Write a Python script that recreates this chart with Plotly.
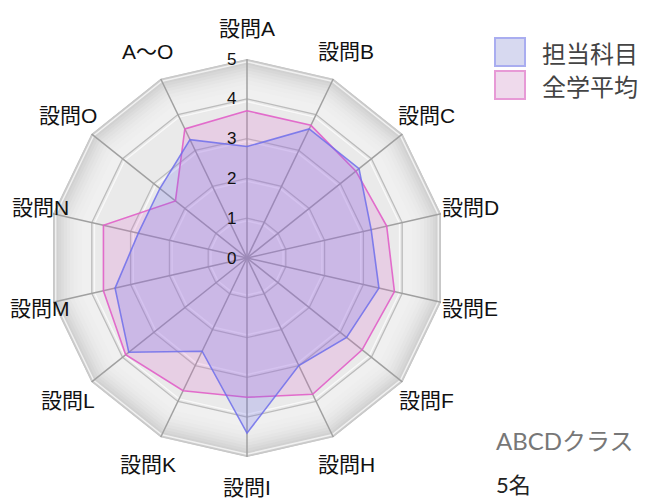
import math
import plotly.graph_objects as go

# Survey items (clockwise from the top)
categories = ["設問A", "設問B", "設問C", "設問D", "設問E", "設問F", "設問H",
              "設問I", "設問K", "設問L", "設問M", "設問N", "設問O", "A〜O"]

# Average scores (0-5)
subject_scores = [2.8, 3.6, 3.6, 3.2, 3.4, 3.2, 3.0, 4.4, 2.6, 3.8, 3.4, 2.8, 2.8, 3.3]
overall_scores = [3.7, 3.7, 3.5, 3.6, 3.8, 3.7, 3.8, 3.5, 3.7, 3.9, 3.7, 3.7, 2.3, 3.6]

series_names = ["担当科目", "全学平均"]
radial_ticks = [0, 1, 2, 3, 4, 5]

class_label = "ABCDクラス"
count_label = "5名"

W, H = 646, 499
CJK = "Liberation Sans, Noto Sans CJK JP, sans-serif"

line_cols = {"担当科目": "rgba(110,110,235,0.85)", "全学平均": "rgba(225,95,200,0.9)"}
fill_cols = {"担当科目": "rgba(105,105,235,0.22)", "全学平均": "rgba(220,100,205,0.20)"}
swatch_line = {"担当科目": "#a9adf0", "全学平均": "#e79ad6"}
swatch_fill = {"担当科目": "#d7d9f0", "全学平均": "#efdaec"}

theta_closed = categories + [categories[0]]
rmax = radial_ticks[-1]

fig = go.Figure()

# Bevelled grey backdrop: darker at the rim, fading inward
bands = [(5.00, "#cbcbcb"), (4.93, "#d1d1d1"), (4.86, "#d7d7d7"), (4.79, "#dcdcdc"),
         (4.72, "#e1e1e1"), (4.64, "#e5e5e5"), (4.56, "#e9e9e9"), (4.47, "#ececec"),
         (4.37, "#eeeeee"), (4.25, "#f0f0f0"), (4.0, "#e8e8e8"), (3.9, "#eaeaea")]
for rb, col in bands:
    fig.add_trace(go.Scatterpolar(
        r=[rb] * len(theta_closed), theta=theta_closed, mode="lines",
        fill="toself", fillcolor=col, line=dict(width=0, color=col),
        hoverinfo="skip", showlegend=False))

# Ring grid with a soft highlight just inside each ring
for k in radial_ticks[1:]:
    fig.add_trace(go.Scatterpolar(
        r=[k - 0.07] * len(theta_closed), theta=theta_closed, mode="lines",
        line=dict(color="rgba(255,255,255,0.7)", width=1.5),
        hoverinfo="skip", showlegend=False))
    fig.add_trace(go.Scatterpolar(
        r=[k] * len(theta_closed), theta=theta_closed, mode="lines",
        line=dict(color="#bcbcbc" if k < rmax else "#c6c6c6", width=1.3),
        hoverinfo="skip", showlegend=False))

# Spokes
for c in categories:
    fig.add_trace(go.Scatterpolar(
        r=[0, rmax], theta=[c, c], mode="lines",
        line=dict(color="#a0a0a0", width=1.5),
        hoverinfo="skip", showlegend=False))

# Data polygons
for name, vals in (("全学平均", overall_scores), ("担当科目", subject_scores)):
    fig.add_trace(go.Scatterpolar(
        r=vals + [vals[0]], theta=theta_closed, name=name, mode="lines",
        fill="toself", fillcolor=fill_cols[name],
        line=dict(color=line_cols[name], width=1.6), showlegend=False))

cx, cy, R = 247, 258, 199
fig.update_layout(
    width=W, height=H,
    margin=dict(l=0, r=0, t=0, b=0),
    paper_bgcolor="white",
    polar=dict(
        domain=dict(x=[(cx - R) / W, (cx + R) / W],
                    y=[(H - cy - R) / H, (H - cy + R) / H]),
        bgcolor="rgba(0,0,0,0)",
        gridshape="linear",
        radialaxis=dict(range=[0, rmax], tickvals=radial_ticks, showgrid=False,
                        showline=False, ticks="outside", ticklen=4,
                        tickcolor="rgba(0,0,0,0)", angle=90, tickangle=90,
                        side="counterclockwise",
                        tickfont=dict(family="Liberation Sans", size=17, color="#111")),
        angularaxis=dict(direction="clockwise", rotation=90, showgrid=False,
                         showline=False, showticklabels=False, ticks=""),
    ),
)

# Category labels around the rim, kept inside the canvas
label_r = 229
n = len(categories)
for i, c in enumerate(categories):
    a = math.radians(i * 360 / n)
    lx = cx + label_r * math.sin(a)
    ly = cy - label_r * math.cos(a)
    lx = min(max(lx, 40), W - 40)
    fig.add_annotation(text=c, xref="paper", yref="paper",
                       x=lx / W, y=1 - ly / H, xanchor="center", yanchor="middle",
                       showarrow=False,
                       font=dict(family=CJK, size=21, color="#111"))

# Legend drawn as swatches with labels
legend_rows = [(38, "担当科目"), (71, "全学平均")]
for y0, name in legend_rows:
    fig.add_shape(type="rect", xref="paper", yref="paper",
                  x0=495 / W, x1=525 / W, y0=1 - y0 / H, y1=1 - (y0 + 28) / H,
                  line=dict(color=swatch_line[name], width=2),
                  fillcolor=swatch_fill[name])
    fig.add_annotation(text=name, xref="paper", yref="paper",
                       x=540 / W, y=1 - (y0 + 14) / H, xanchor="left", yanchor="middle",
                       showarrow=False,
                       font=dict(family="Noto Sans CJK JP", size=24, color="#444"))

fig.add_annotation(text=class_label, xref="paper", yref="paper",
                   x=494 / W, y=1 - 440 / H, xanchor="left", yanchor="middle",
                   showarrow=False,
                   font=dict(family="Lato, Noto Sans CJK JP", size=24, color="#777"))
fig.add_annotation(text=count_label, xref="paper", yref="paper",
                   x=494 / W, y=1 - 484 / H, xanchor="left", yanchor="middle",
                   showarrow=False,
                   font=dict(family="Lato, Noto Sans CJK JP", size=22, color="#222"))

fig.write_html("out.html")
